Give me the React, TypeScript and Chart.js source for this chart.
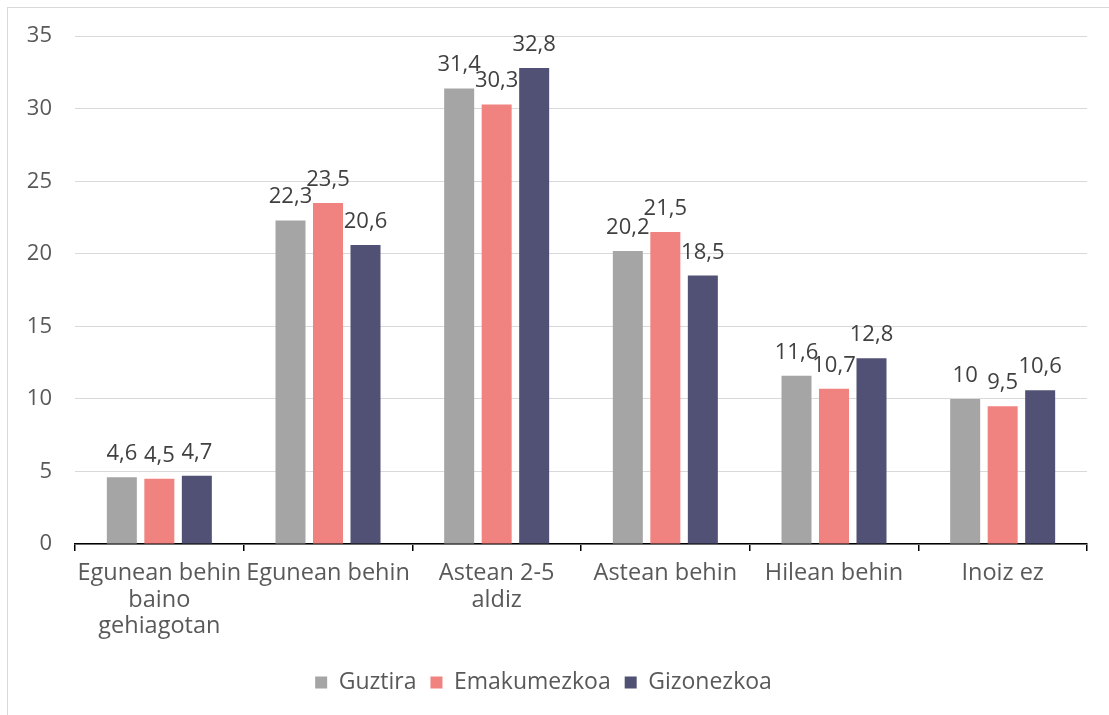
import React, { useEffect, useRef } from "react";
import { Chart, registerables } from "chart.js";

Chart.register(...registerables);

const categories: (string | string[])[] = [
  ["Egunean behin", "baino", "gehiagotan"],
  "Egunean behin",
  ["Astean 2-5", "aldiz"],
  "Astean behin",
  "Hilean behin",
  "Inoiz ez",
];
const guztira = [4.6, 22.3, 31.4, 20.2, 11.6, 10];
const emakumezkoa = [4.5, 23.5, 30.3, 21.5, 10.7, 9.5];
const gizonezkoa = [4.7, 20.6, 32.8, 18.5, 12.8, 10.6];
const seriesNames = ["Guztira", "Emakumezkoa", "Gizonezkoa"];
const yTicks = [0, 5, 10, 15, 20, 25, 30, 35];

const FONT = "'Open Sans', sans-serif";

const dataLabels = {
  id: "dataLabels",
  afterDatasetsDraw(chart: any) {
    const ctx = chart.ctx;
    ctx.save();
    ctx.font = `22px ${FONT}`;
    ctx.fillStyle = "#404040";
    ctx.textAlign = "center";
    ctx.textBaseline = "alphabetic";
    chart.data.datasets.forEach((ds: any, i: number) => {
      const meta = chart.getDatasetMeta(i);
      meta.data.forEach((bar: any, j: number) => {
        const v = ds.data[j];
        const txt = String(v).replace(".", ",");
        ctx.fillText(txt, bar.x, bar.y - 17);
      });
    });
    ctx.restore();
  },
};

export default function App() {
  const ref = useRef<HTMLCanvasElement>(null);
  useEffect(() => {
    document.body.style.margin = "0";
    const chart = new Chart(ref.current!, {
      type: "bar",
      data: {
        labels: categories,
        datasets: [
          { label: seriesNames[0], data: guztira, backgroundColor: "#A5A5A5" },
          { label: seriesNames[1], data: emakumezkoa, backgroundColor: "#F0827F" },
          { label: seriesNames[2], data: gizonezkoa, backgroundColor: "#505175" },
        ],
      },
      options: {
        animation: false,
        responsive: false,
        maintainAspectRatio: false,
        layout: { padding: { top: 27, right: 22, bottom: 11, left: 0 } },
        datasets: {
          bar: { categoryPercentage: 0.667, barPercentage: 0.8 },
        } as any,
        plugins: {
          tooltip: { enabled: false },
          legend: {
            position: "bottom",
            labels: {
              font: { family: FONT, size: 23 },
              color: "#595959",
              boxWidth: 12,
              boxHeight: 12,
              padding: 14,
            },
          },
        },
        scales: {
          x: {
            afterFit(scale: any) {
              scale.height = 113;
            },
            grid: {
              display: true,
              drawOnChartArea: false,
              drawTicks: true,
              tickLength: 7,
              color: "#000000",
              lineWidth: 1.5,
              offset: true,
            },
            border: { display: true, color: "#000000", width: 1.5 },
            ticks: {
              font: { family: FONT, size: 23.5, lineHeight: 1.13 },
              color: "#595959",
              maxRotation: 0,
              autoSkip: false,
              padding: 9,
            },
          },
          y: {
            min: 0,
            max: 35,
            afterFit(scale: any) {
              scale.width = 75;
            },
            afterBuildTicks(scale: any) {
              scale.ticks = yTicks.map((v) => ({ value: v }));
            },
            grid: { color: "#D9D9D9", lineWidth: 1, drawTicks: false },
            border: { display: false },
            ticks: {
              font: { family: FONT, size: 22 },
              color: "#595959",
              padding: 23,
            },
          },
        },
      },
      plugins: [dataLabels],
    });
    return () => chart.destroy();
  }, []);
  return (
    <div style={{ position: "relative", width: 1109, height: 715, overflow: "hidden", background: "#fff" }}>
      <div
        style={{
          position: "absolute",
          left: 7,
          top: 7,
          width: 1200,
          height: 800,
          borderLeft: "1px solid #D9D9D9",
          borderTop: "1px solid #D9D9D9",
        }}
      />
      <canvas ref={ref} width={1109} height={715} style={{ position: "absolute", left: 0, top: 0 }} />
    </div>
  );
}
